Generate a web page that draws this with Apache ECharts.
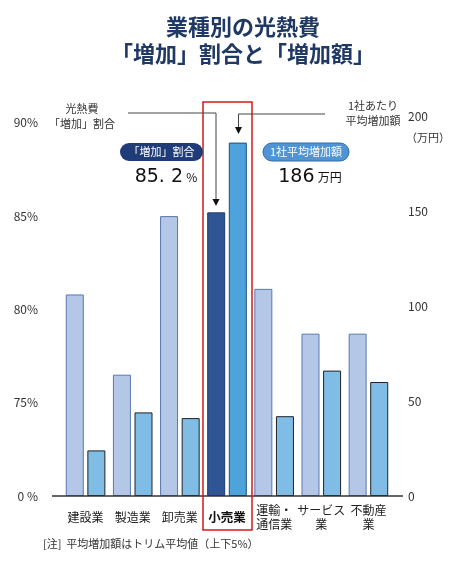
<!DOCTYPE html>
<html>
<head>
<meta charset="utf-8">
<script src="https://cdn.jsdelivr.net/npm/echarts@6/dist/echarts.min.js"></script>
<style>
  html, body { margin: 0; padding: 0; background: #fff; }
  #chart { width: 453px; height: 563px; }
</style>
</head>
<body>
<div id="chart"></div>
<script>
(function () {

    "use strict";

    // Data
    const categories = ['建設業', '製造業', '卸売業', '小売業', '運輸・\n通信業', 'サービス\n業', '不動産\n業'];
    const increaseShare = [80.8, 76.5, 85.0, 85.2, 81.1, 78.7, 78.7];   // 光熱費「増加」割合 (%)
    const avgIncrease = [24, 44, 41, 186, 42, 66, 60];                  // 1社あたり平均増加額 (万円)
    const shareTicks = ['0 %', '75%', '80%', '85%', '90%'];
    const amountTicks = [0, 50, 100, 150, 200];
    const highlightIndex = 3;

    const FONT = '"Noto Sans CJK JP", "Noto Sans", sans-serif';

    // broken left axis: 0% | 75% | 80% | 85% | 90% equally spaced
    function shareToUnits(v) {
        return v < 75 ? v / 75 : 1 + (v - 75) / 5;
    }

    const chart = echarts.init(document.getElementById('chart'), null, { renderer: 'canvas' });

    const lightData = increaseShare.map(function (v, i) {
        const item = { value: shareToUnits(v) };
        if (i === highlightIndex) {
            item.itemStyle = { color: '#2f5597', borderColor: '#1f3864' };
        }
        return item;
    });

    const blueData = avgIncrease.map(function (v, i) {
        const item = { value: v };
        if (i === highlightIndex) {
            item.itemStyle = { color: '#4ea3dc', borderColor: '#1f4e79' };
        }
        return item;
    });

    const option = {
        backgroundColor: '#fff',
        animation: false,
        grid: { left: 62, right: 61, top: 116, bottom: 67 },
        xAxis: {
            type: 'category',
            data: categories,
            axisLine: { show: false },
            axisTick: { show: false },
            axisLabel: {
                interval: 0,
                margin: 21,
                verticalAlign: 'middle',
                fontFamily: FONT,
                fontSize: 12,
                lineHeight: 14,
                color: '#222',
                formatter: function (val, idx) {
                    return idx === highlightIndex ? '{hl|' + val + '}' : val;
                },
                rich: {
                    hl: { fontFamily: FONT, fontSize: 12.5, fontWeight: 'bold', color: '#111' }
                }
            }
        },
        yAxis: [{
            type: 'value',
            min: 0,
            max: 380 / 93.3,
            interval: 1,
            axisLine: { show: false },
            axisTick: { show: false },
            splitLine: { show: false },
            axisLabel: {
                margin: 24,
                fontFamily: FONT,
                fontSize: 12,
                color: '#333',
                formatter: function (v) {
                    return Number.isInteger(v) && shareTicks[v] ? shareTicks[v] : '';
                }
            }
        }, {
            type: 'value',
            position: 'right',
            min: 0,
            max: 200,
            interval: 50,
            axisLine: { show: false },
            axisTick: { show: false },
            splitLine: { show: false },
            axisLabel: {
                margin: 16,
                fontFamily: FONT,
                fontSize: 12,
                color: '#333',
                formatter: function (v) {
                    return amountTicks.indexOf(v) >= 0 ? String(v) : '';
                }
            }
        }],
        series: [{
            name: '「増加」割合',
            type: 'bar',
            yAxisIndex: 0,
            barWidth: 18,
            barGap: '20%',
            itemStyle: { color: '#b4c7e7', borderColor: '#5878b0', borderWidth: 1 },
            data: lightData
        }, {
            name: '1社平均増加額',
            type: 'bar',
            yAxisIndex: 1,
            barWidth: 18,
            barGap: '20%',
            itemStyle: { color: '#7fbde6', borderColor: '#222', borderWidth: 1 },
            data: blueData
        }],
        graphic: [
            // title
            { type: 'text', z: 10, style: { text: '業種別の光熱費', x: 243, y: 27, align: 'center', verticalAlign: 'middle',
                font: 'bold 22px ' + FONT, fill: '#1f3864' } },
            { type: 'text', z: 10, style: { text: '「増加」割合と「増加額」', x: 243, y: 54, align: 'center', verticalAlign: 'middle',
                font: 'bold 22px ' + FONT, fill: '#1f3864' } },
            // baseline
            { type: 'line', z: 10, shape: { x1: 52, y1: 496, x2: 403, y2: 496 }, style: { stroke: '#333', lineWidth: 1.5 } },
            // red frame round 小売業
            { type: 'rect', z: 10, shape: { x: 203, y: 102, width: 49, height: 428 }, style: { fill: null, stroke: '#d41a1a', lineWidth: 1.5 } },
            // left annotation
            { type: 'text', z: 10, style: { text: '光熱費\n「増加」割合', x: 82, y: 116, align: 'center', verticalAlign: 'middle',
                font: '11px ' + FONT, lineHeight: 15, fill: '#333' } },
            { type: 'polyline', z: 10, shape: { points: [[128, 113], [216, 113], [216, 200]] }, style: { stroke: '#444', lineWidth: 1, fill: null } },
            { type: 'polygon', z: 10, shape: { points: [[212.5, 199], [219.5, 199], [216, 206]] }, style: { fill: '#111' } },
            // right annotation
            { type: 'text', z: 10, style: { text: '1社あたり\n平均増加額', x: 373, y: 113, align: 'center', verticalAlign: 'middle',
                font: '11px ' + FONT, lineHeight: 15, fill: '#333' } },
            { type: 'polyline', z: 10, shape: { points: [[325, 114], [238.5, 114], [238.5, 128]] }, style: { stroke: '#444', lineWidth: 1, fill: null } },
            { type: 'polygon', z: 10, shape: { points: [[235, 127], [242, 127], [238.5, 134]] }, style: { fill: '#111' } },
            { type: 'text', z: 10, style: { text: '（万円）', x: 428, y: 138, align: 'center', verticalAlign: 'middle',
                font: '11px ' + FONT, fill: '#333' } },
            // badges
            { type: 'rect', z: 10, shape: { x: 120, y: 143, width: 83, height: 18, r: 9 }, style: { fill: '#1f3c78' } },
            { type: 'text', z: 11, style: { text: '「増加」割合', x: 161.5, y: 152, align: 'center', verticalAlign: 'middle',
                font: '11px ' + FONT, fill: '#fff' } },
            { type: 'rect', z: 10, shape: { x: 263, y: 143, width: 86, height: 18, r: 9 }, style: { fill: '#4f94d4', stroke: '#2e6aa6', lineWidth: 1 } },
            { type: 'text', z: 11, style: { text: '1社平均増加額', x: 306, y: 152, align: 'center', verticalAlign: 'middle',
                font: '11px ' + FONT, fill: '#fff' } },
            // highlighted values
            { type: 'text', z: 10, style: { text: '{n|85. 2} {u|%}', x: 166, y: 177, align: 'center', verticalAlign: 'middle',
                rich: { n: { font: '19px "DejaVu Sans", sans-serif', fill: '#111' }, u: { font: '12px ' + FONT, fill: '#111' } } } },
            { type: 'text', z: 10, style: { text: '{n|186} {u|万円}', x: 310, y: 177, align: 'center', verticalAlign: 'middle',
                rich: { n: { font: '19px "DejaVu Sans", sans-serif', fill: '#111' }, u: { font: '12px ' + FONT, fill: '#111' } } } },
            // note
            { type: 'text', z: 10, style: { text: '[注]  平均増加額はトリム平均値（上下5%）', x: 43, y: 544, align: 'left', verticalAlign: 'middle',
                font: '11px ' + FONT, fill: '#333' } }
        ]
    };

    chart.setOption(option);

})();
</script>
</body>
</html>
